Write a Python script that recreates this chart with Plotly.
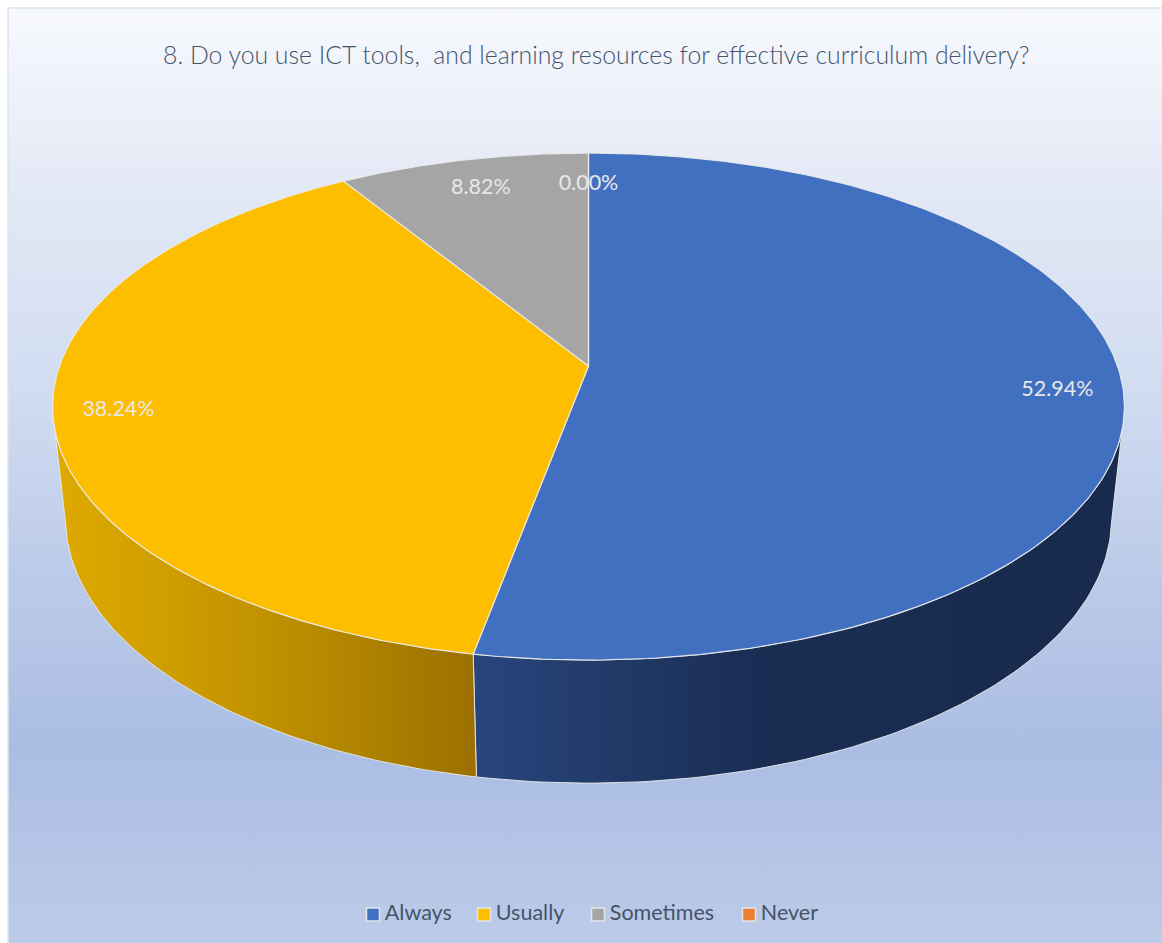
import numpy as np
import plotly.graph_objects as go

# ---- data ----
categories = ["Always", "Usually", "Sometimes", "Never"]
values = [52.94, 38.24, 8.82, 0.00]
title_text = "8. Do you use ICT tools,  and learning resources for effective curriculum delivery?"

# ---- style ----
top_colors = ["#4270c1", "#fdbe00", "#a5a5a5", "#ed7d31"]
wall_scales = {
    0: [[0, "#28457c"], [0.25, "#203865"], [0.45, "#192d53"], [1, "#182a4d"]],
    1: [[0, "#dfaa00"], [0.5, "#c09200"], [1, "#9b7000"]],
}
edge = "rgba(235,235,235,0.9)"
font = "Lato, 'Open Sans', sans-serif"
W, H = 1162, 943

# ---- perspective projection of the pie disc (top z=0, bottom z=1) ----
CX, CY, A, B, P, Q, C = 588.5, 366.0, 529.0, 247.0, 0.16, 0.024, 113.4


def project(theta_deg, r=1.0, z=0.0):
    t = np.radians(theta_deg)
    X, Y = r * np.sin(t), r * np.cos(t)
    w = 1 + P * Y + Q * z
    return CX + A * X / w, CY + (-B * Y + C * z) / w


edges = np.concatenate([[0], np.cumsum(values)]) * 3.6
fig = go.Figure()

# chart-area background
fig.add_trace(go.Scatter(
    x=[8, W + 5, W + 5, 8, 8], y=[8, 8, H + 5, H + 5, 8], mode="lines", fill="toself",
    line=dict(color="#dde2ec", width=1.5), hoverinfo="skip", showlegend=False,
    fillgradient=dict(type="vertical", start=8, stop=H,
                      colorscale=[[0, "#f7f9fd"], [0.2, "#e2e8f5"], [0.4, "#d2ddf2"],
                                  [0.6, "#bccbe9"], [0.79, "#aabde3"], [1, "#bccbe8"]]),
))

# side walls: only the near half of the rim is visible
VIS0, VIS1 = 100.0, 260.0
for i, name in enumerate(categories):
    a0, a1 = max(edges[i], VIS0), min(edges[i + 1], VIS1)
    if a1 <= a0:
        continue
    th = np.linspace(a0, a1, 90)
    xt, yt = project(th)
    xb, yb = project(th[::-1], z=1.0)
    fig.add_trace(go.Scatter(
        x=np.r_[xt, xb, xt[0]], y=np.r_[yt, yb, yt[0]], mode="lines", fill="toself",
        line=dict(color=edge, width=1), hoverinfo="skip", showlegend=False,
        fillgradient=dict(type="horizontal", colorscale=wall_scales[i]),
    ))

# top faces
for i, name in enumerate(categories):
    th = np.linspace(edges[i], edges[i + 1], 240)
    xt, yt = project(th)
    fig.add_trace(go.Scatter(
        x=np.r_[CX, xt, CX], y=np.r_[CY, yt, CY], mode="lines", fill="toself",
        fillcolor=top_colors[i], line=dict(color=edge, width=1.2),
        name=name, hoverinfo="skip", showlegend=False,
    ))

# value labels
mid = (edges[:-1] + edges[1:]) / 2
lx, ly = project(mid, r=0.875)
ly = ly + np.array([4, 4, 6, 8])
lx = lx + np.array([2, -3, 4, 0])
fig.add_trace(go.Scatter(
    x=lx, y=ly, mode="text", text=[f"{v:.2f}%" for v in values],
    textposition="middle center",
    textfont=dict(family=font, size=21.5, color="#e8e8e8"),
    hoverinfo="skip", showlegend=False,
))

# legend row
legend_x = [373, 484, 598, 749]
legend_y = 914.5
for i, name in enumerate(categories):
    fig.add_trace(go.Scatter(
        x=[legend_x[i]], y=[legend_y], mode="markers+text", text=["\u2009" + name],
        textposition="middle right",
        textfont=dict(family=font, size=21.5, color="#44546a"),
        marker=dict(symbol="square", size=13, color=top_colors[i],
                    line=dict(color="#e4e6ea", width=1.5)),
        hoverinfo="skip", showlegend=False, name=name,
    ))

fig.update_layout(
    width=W, height=H, margin=dict(l=0, r=0, t=0, b=0),
    paper_bgcolor="white", plot_bgcolor="rgba(0,0,0,0)", showlegend=False,
    xaxis=dict(range=[0, W], visible=False, fixedrange=True),
    yaxis=dict(range=[H, 0], visible=False, fixedrange=True),
    annotations=[dict(text=title_text, x=595.5, y=54.5, xref="x", yref="y", showarrow=False,
                      font=dict(family=font, size=24.8, weight=300, color="#44546a"))],
)
fig.write_html("out.html", config={"displayModeBar": False},
               post_script="document.body.style.margin='0';")
